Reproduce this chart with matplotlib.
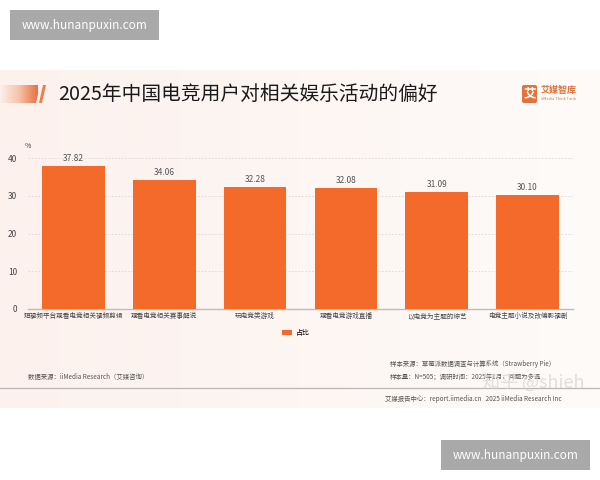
import numpy as np
import matplotlib
matplotlib.use("Agg")
import matplotlib.pyplot as plt
from matplotlib.patches import Rectangle, Polygon, FancyBboxPatch
from matplotlib.colors import LinearSegmentedColormap

plt.rcParams['font.family'] = ['Noto Sans CJK SC', 'DejaVu Sans']

categories = ["短视频平台观看电竞相关视频剪辑", "观看电竞相关赛事解说", "玩电竞类游戏",
              "观看电竞游戏直播", "以电竞为主题的综艺", "电竞主题小说及改编影视剧"]
values = [37.82, 34.06, 32.28, 32.08, 31.09, 30.10]
yticks = [0, 10, 20, 30, 40]
series_name = "占比"
title = "2025年中国电竞用户对相关娱乐活动的偏好"

W, H = 600, 480
fig = plt.figure(figsize=(6, 4.8), dpi=100)
fig.patch.set_facecolor("white")

def fx(x): return x / W
def fy(y): return 1 - y / H

# background layer axes in pixel coordinates
bg = fig.add_axes([0, 0, 1, 1])
bg.set_xlim(0, W); bg.set_ylim(H, 0); bg.axis("off")

# panel gradient
grad = np.linspace(0, 1, 256)[None, :]
cm = LinearSegmentedColormap.from_list("p", ["#fcf1ed", "#fdf6f3", "#fefbf9"])
bg.imshow(grad, extent=[0, W, 408, 70], aspect="auto", cmap=cm, zorder=0)

# title decoration
cm2 = LinearSegmentedColormap.from_list("o", ["#fdf0ea", "#f6c3a8", "#e8703f"])
im = bg.imshow(grad, extent=[0, 38, 103, 85], aspect="auto", cmap=cm2, zorder=1)
poly = Polygon([[0, 85], [40, 85], [36, 103], [0, 103]], closed=True, transform=bg.transData)
im.set_clip_path(poly)
bg.add_patch(Polygon([[43, 85], [46, 85], [42, 103], [39, 103]], closed=True,
                     facecolor="#e9804f", edgecolor="none", zorder=2))
bg.text(58, 95, title, fontsize=14.2, color="#1a1a1a", va="center", ha="left", zorder=3)

# logo
bg.add_patch(FancyBboxPatch((522, 85), 15, 18, boxstyle="round,pad=0,rounding_size=2",
                            facecolor="#e0733e", edgecolor="none", zorder=3))
bg.text(529.5, 94, "艾", fontsize=9, color="white", ha="center", va="center", fontweight="bold", zorder=4)
bg.text(541, 90, "艾媒智库", fontsize=6.5, color="#e0733e", ha="left", va="center", fontweight="bold", zorder=4)
bg.text(541, 99, "iiMedia Think Tank", fontsize=2.8, color="#e0733e", ha="left", va="center", zorder=4)

# footer
bg.plot([0, W], [388, 388], color="#b8b8b8", lw=0.9, zorder=2)
bg.text(28, 377, "数据来源：iiMedia Research（艾媒咨询）", fontsize=4.6, color="#555555", va="center", zorder=3)
bg.text(390, 364, "样本来源：草莓派数据调查与计算系统（Strawberry Pie）", fontsize=4.6, color="#555555", va="center", zorder=3)
bg.text(390, 377, "样本量：N=505；调研时间：2025年1月，问题为多选", fontsize=4.6, color="#555555", va="center", zorder=3)
bg.text(385, 399, "艾媒报告中心：report.iimedia.cn   2025 iiMedia Research Inc", fontsize=4.6, color="#555555", va="center", zorder=3)
bg.text(482, 382, "知乎 @shieh", fontsize=13, color="#d4d4d4", alpha=0.7, va="center", ha="left", zorder=3)

# watermark boxes
for (x0, y0) in [(10, 10), (441, 440)]:
    bg.add_patch(Rectangle((x0, y0), 149, 30, facecolor="#a9a9a9", edgecolor="none", zorder=5))
    bg.text(x0 + 74.5, y0 + 15, "www.hunanpuxin.com", fontsize=8.5, color="white",
            ha="center", va="center", zorder=6)

# chart axes
ax = fig.add_axes([fx(28), fy(309), fx(573) - fx(28), fy(158) - fy(309)])
ax.patch.set_alpha(0)
x = np.arange(len(categories))
ax.bar(x, values, width=0.69, color="#f46a2a", zorder=3, label=series_name)
for xi, v in zip(x, values):
    ax.text(xi, v + 0.8, f"{v:.2f}", ha="center", va="bottom", fontsize=6, color="#555555")
ax.set_xlim(-0.5, len(categories) - 0.5)
ax.set_ylim(0, 40)
ax.set_yticks(yticks)
ax.set_yticklabels([str(t) for t in yticks], fontsize=6, color="#444444")
ax.set_xticks(x)
ax.set_xticklabels(categories, fontsize=4.8, color="#444444")
ax.tick_params(axis="both", length=0, pad=2)
ax.tick_params(axis="y", pad=8)
ax.yaxis.grid(True, linestyle=(0, (2, 2)), color="#d9d9d9", lw=0.6, zorder=0)
for s in ["top", "right", "left"]:
    ax.spines[s].set_visible(False)
ax.spines["bottom"].set_color("#bdbdbd")
ax.spines["bottom"].set_linewidth(1.0)
ax.text(0, 1.08, "%", transform=ax.transAxes, fontsize=5, color="#444444", ha="center", va="center")

ax.legend(loc="center", bbox_to_anchor=(fx(296), fy(333)), bbox_transform=fig.transFigure,
          frameon=False, fontsize=5, handlelength=1.4, handleheight=0.9, handletextpad=0.5)

fig.savefig("out.png", dpi=100, facecolor="white")
